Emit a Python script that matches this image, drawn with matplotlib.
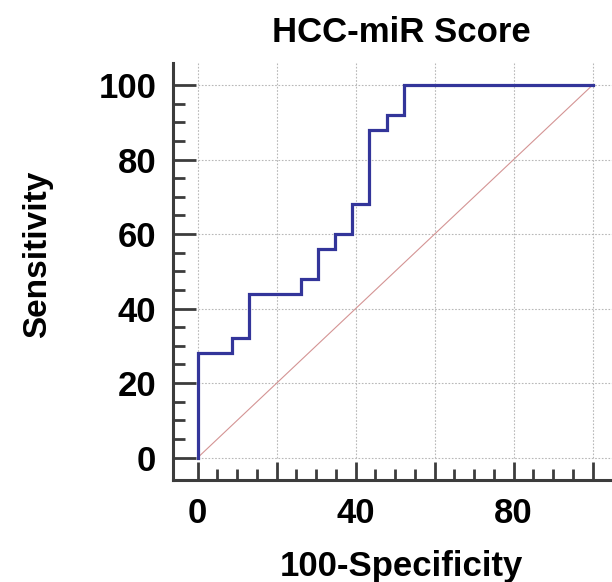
import numpy as np
import matplotlib
matplotlib.use("Agg")
import matplotlib.pyplot as plt
from matplotlib.ticker import FixedLocator

# ROC data (100-Specificity, Sensitivity), step points
fpr = [0, 0, 8.70, 13.04, 26.09, 30.43, 34.78, 39.13, 43.48, 47.83, 52.17, 100]
tpr = [0, 28, 32, 44, 48, 56, 60, 68, 88, 92, 100, 100]

xTicks = [0, 20, 40, 60, 80, 100]
xTickLabels = ["0", "", "40", "", "80", ""]
yTicks = [0, 20, 40, 60, 80, 100]
yTickLabels = ["0", "20", "40", "60", "80", "100"]
minorTicks = [t for t in range(5, 100, 5) if t % 20 != 0]

TITLE = "HCC-miR Score"
XLABEL = "100-Specificity"
YLABEL = "Sensitivity"

ROC_COLOR = "#33359a"
DIAG_COLOR = "#d49494"
GRID_COLOR = "#b8b8b8"
AXIS_COLOR = "#3c3c3c"

plt.rcParams['font.family'] = ['Liberation Sans', 'DejaVu Sans']
plt.rcParams['font.weight'] = 'bold'

fig = plt.figure(figsize=(6.12, 5.82), dpi=100)
ax = fig.add_axes([173 / 612, 102 / 582, 1 - 173 / 612, (480 - 63) / 582])

xMin, xMax = -6.25, 104.9
yMin, yMax = -6.0, 105.9
ax.set_xlim(xMin, xMax)
ax.set_ylim(yMin, yMax)

# grid only over the data range
ax.vlines(xTicks, 0, yMax, colors=GRID_COLOR, linestyles=(0, (1.5, 1.5)), linewidth=0.8, zorder=1)
ax.hlines(yTicks, 0, xMax, colors=GRID_COLOR, linestyles=(0, (1.5, 1.5)), linewidth=0.8, zorder=1)

# reference diagonal and ROC curve
ax.plot([0, 100], [0, 100], color=DIAG_COLOR, linewidth=0.8, zorder=2)
ax.plot(fpr, tpr, drawstyle='steps-post', color=ROC_COLOR, linewidth=2.3, zorder=3,
        solid_joinstyle='miter')

# spines
for side in ['top', 'right']:
    ax.spines[side].set_visible(False)
for side in ['left', 'bottom']:
    ax.spines[side].set_color(AXIS_COLOR)
    ax.spines[side].set_linewidth(2.2)

ax.xaxis.set_major_locator(FixedLocator(xTicks))
ax.set_xticklabels(xTickLabels)
ax.yaxis.set_major_locator(FixedLocator(yTicks))
ax.set_yticklabels(yTickLabels)
ax.xaxis.set_minor_locator(FixedLocator(minorTicks))
ax.yaxis.set_minor_locator(FixedLocator(minorTicks))

ax.tick_params(axis='x', which='major', direction='in', length=13, width=2.0, color=AXIS_COLOR,
               labelsize=25, pad=12.5)
ax.tick_params(axis='x', which='minor', direction='in', length=8, width=2.0, color=AXIS_COLOR)
ax.tick_params(axis='y', which='major', direction='in', length=16.5, width=2.0, color=AXIS_COLOR,
               labelsize=25, pad=12)
ax.tick_params(axis='y', which='minor', direction='in', length=8.5, width=2.0, color=AXIS_COLOR)
for lbl in ax.get_xticklabels() + ax.get_yticklabels():
    lbl.set_fontweight('bold')

fig.text(401.5 / 612, 1 - 42 / 582, TITLE, fontsize=25, fontweight='bold', ha='center', va='baseline')
fig.text(401.5 / 612, 1 - 576 / 582, XLABEL, fontsize=25, fontweight='bold', ha='center', va='baseline')
fig.text(38 / 612, 1 - 254 / 582, YLABEL, fontsize=24, fontweight='bold', ha='center', va='center',
         rotation=90)

fig.savefig("out.png", dpi=100)
